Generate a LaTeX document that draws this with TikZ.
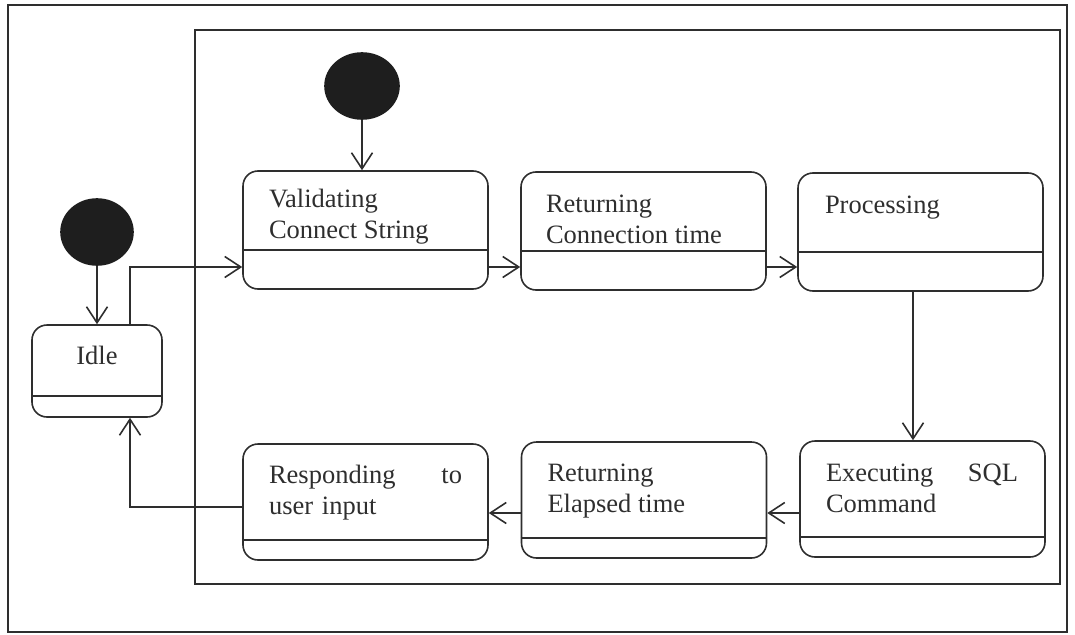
\documentclass[tikz,border=0pt]{standalone}
\usepackage{fontspec}
\setmainfont{Liberation Serif}
\usetikzlibrary{arrows.meta,shapes.geometric}
\definecolor{ink}{HTML}{2E2E2E}
\definecolor{dot}{HTML}{1E1E1E}
% stretchable gap that beats the ragged-right glue
\newcommand{\gapfill}{\hskip 0pt plus 1fill\relax}
\begin{document}
\begin{tikzpicture}[x=1pt,y=-1pt,
  line width=1.6pt, draw=ink,
  statebox/.style={draw=ink, rounded corners=15pt, inner sep=0pt,
    minimum width=245pt, minimum height=118pt},
  lowbox/.style={statebox, minimum height=116pt},
  startdot/.style={ellipse, draw=dot, fill=dot, inner sep=0pt},
  label/.style={anchor=north west, inner sep=0pt, align=left, text=ink,
    font=\fontsize{26.5}{31}\selectfont},
  flow/.style={draw=ink, -{Straight Barb[length=16pt,width=21pt,line width=1.6pt]}}
]
\useasboundingbox (0,0) rectangle (1075,634);

% frames
\draw[ink] (8,5) rectangle (1067,632);
\draw[ink] (195,30) rectangle (1060,584);

% initial states
\node[startdot, minimum width=72pt, minimum height=66pt] (start) at (97,232) {};
\node[startdot, minimum width=74pt, minimum height=66pt] (substart) at (362,86) {};

% idle state
\node[statebox, minimum width=130pt, minimum height=92pt] (idle) at (97,371) {};
\draw ([yshift=22pt]idle.south west) -- ([yshift=22pt]idle.south east);
\node[anchor=base, inner sep=0pt, text=ink, font=\fontsize{26.5}{31}\selectfont]
  (idletxt) at ([yshift=-40pt]idle.north) {Idle};

% top row of states
\node[statebox] (val)  at (365.5,230) {};
\node[statebox] (rc)   at (643.5,231) {};
\node[statebox] (proc) at (920.5,232) {};
\foreach \s in {val,rc,proc}
  \draw ([yshift=40pt]\s.south west) -- ([yshift=40pt]\s.south east);
\node[label] (valtxt)  at ([xshift=26pt,yshift=-15pt]val.north west)
  {\strut Validating\\Connect String};
\node[label] (rctxt)   at ([xshift=25pt,yshift=-19pt]rc.north west)
  {\strut Returning\\Connection time};
\node[label] (proctxt) at ([xshift=27pt,yshift=-19pt]proc.north west)
  {\strut Processing};

% bottom row of states
\node[lowbox] (exe)  at (922.5,499) {};
\node[lowbox] (re)   at (644,500) {};
\node[lowbox] (resp) at (365.5,502) {};
\foreach \s in {exe,re,resp}
  \draw ([yshift=21pt]\s.south west) -- ([yshift=21pt]\s.south east);
\node[label, text width=192pt] (exetxt) at ([xshift=26pt,yshift=-19pt]exe.north west)
  {\strut Executing\gapfill SQL\\Command};
\node[label] (retxt) at ([xshift=26pt,yshift=-18pt]re.north west)
  {\strut Returning\\Elapsed time};
\node[label, text width=193pt] (resptxt) at ([xshift=26pt,yshift=-18pt]resp.north west)
  {\strut Responding\gapfill to\\user input};

% routing points
\coordinate (idleup)   at (130,267);
\coordinate (toprow)   at (0,267);
\coordinate (downx)    at (913,0);
\coordinate (botrow)   at (0,513);
\coordinate (backturn) at (130,507);

% transitions
\draw[flow] (start) -- (idle.north -| start);
\draw[flow] (substart) -- (val.north -| substart);
\draw[flow] (idle.north -| idleup) -- (idleup) -- (val.west |- idleup);
\draw[flow] (val.east |- toprow) -- (rc.west |- toprow);
\draw[flow] (rc.east |- toprow) -- (proc.west |- toprow);
\draw[flow] (proc.south -| downx) -- (exe.north -| downx);
\draw[flow] (exe.west |- botrow) -- (re.east |- botrow);
\draw[flow] (re.west |- botrow) -- (resp.east |- botrow);
\draw[flow] (resp.west |- backturn) -- (backturn) -- (idle.south -| backturn);
\end{tikzpicture}
\end{document}
